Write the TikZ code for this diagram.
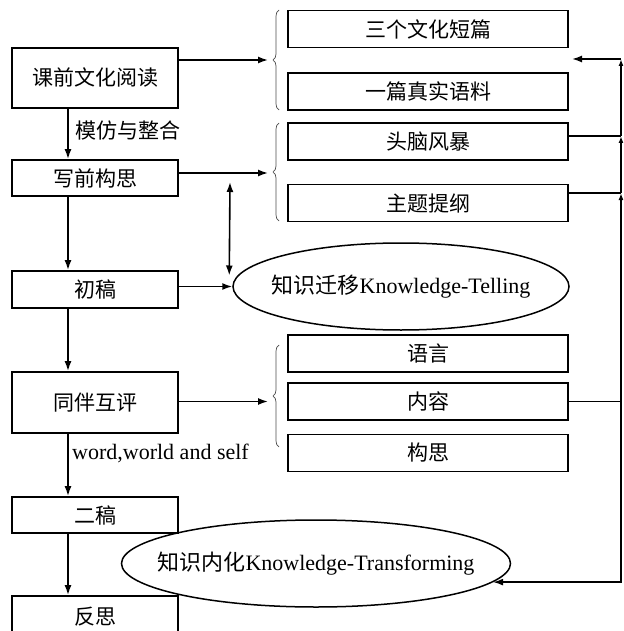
\documentclass[tikz,border=0pt]{standalone}
\usepackage{fontspec}
\setmainfont{Liberation Serif}
\newfontfamily\cjk{Noto Sans CJK SC}
\usetikzlibrary{arrows.meta,shapes.geometric,decorations.pathreplacing}

\tikzset{
  box/.style={draw, line width=1.8pt, minimum width=166pt, inner sep=0pt,
    font=\cjk\fontsize{21}{25}\selectfont},
  item/.style={box, minimum width=280pt, minimum height=37pt},
  bubble/.style={draw, ellipse, line width=1.5pt, inner sep=0pt,
    font=\fontsize{22}{26}\selectfont},
  tip/.style={-{Latex[length=10pt,width=7pt]}},
  link/.style={line width=1.6pt, tip},
  feed/.style={line width=1.5pt, -{Latex[length=7pt,width=5pt]}},
  curly/.style={decorate, decoration={brace, amplitude=6pt}, line width=0.7pt, black!70},
  note/.style={anchor=west, inner sep=0pt, font=\fontsize{22}{26}\selectfont},
}

\begin{document}
\begin{tikzpicture}[x=1pt, y=-1pt]

\useasboundingbox (0,0) rectangle (623,631);
\clip (0,0) rectangle (623,631);

% Writing steps (left column)
\node[box, minimum height=60pt] (read) at (95,78) {课前文化阅读};
\node[box, minimum height=36pt] (plan) at (95,178) {写前构思};
\node[box, minimum height=37pt] (draft) at (95,289.5) {初稿};
\node[box, minimum height=61pt] (peer) at (95,402.5) {同伴互评};
\node[box, minimum height=36pt] (second) at (95,515) {二稿};
\node[box, minimum height=42pt] (reflect) at (95,617) {反思};

% Sub-items (right column)
\foreach \name/\y/\txt in {culture/29/三个文化短篇, corpus/91.5/一篇真实语料,
    storm/141.5/头脑风暴, outline/203/主题提纲,
    lang/353.5/语言, content/401.5/内容, struct/453/构思} {
  \node[item] (\name) at (428,\y) {\txt};
}

% Knowledge ellipses
\node[bubble, minimum width=336pt, minimum height=87pt] (tell) at (401,286.5)
  {\makebox[0pt]{{\cjk 知识迁移}Knowledge-Telling}};
\node[bubble, minimum width=389pt, minimum height=87pt] (trans) at (316,563.5)
  {\makebox[0pt]{{\cjk 知识内化}Knowledge-Transforming}};

% Labels on the main line
\node[note, font=\cjk\fontsize{21}{25}\selectfont] (imit) at (75,130) {模仿与整合};
\node[note] (wws) at (72,453) {word,world and self};

% Braces
\draw[curly] (279,110) -- (279,10);
\draw[curly] (279,221) -- (279,123);
\draw[curly] (279,447) -- (279,345);

\coordinate (t1) at (268,60);
\coordinate (t2) at (268,173);
\coordinate (t3) at (268,401.5);
\coordinate (spine) at (68,0);
\coordinate (pin) at (230,182);

% Main flow
\draw[link] (read.south -| spine) -- (plan.north -| spine);
\draw[link] (plan.south -| spine) -- (draft.north -| spine);
\draw[link] (draft.south -| spine) -- (peer.north -| spine);
\draw[link] (peer.south -| spine) -- (second.north -| spine);
\draw[link] (second.south -| spine) -- (reflect.north -| spine);

\draw[link] (read.east |- t1) -- (t1);
\draw[link] (plan.east |- t2) -- (t2);
\draw[link] (peer.east |- t3) -- (t3);
\draw[link] (draft.east |- tell.west) -- (tell.west);
\draw[line width=1.6pt, {Latex[length=10pt,width=7pt]}-{Latex[length=10pt,width=7pt]}]
  (pin) -- ([xshift=-3pt,yshift=11pt]tell.west);

% Feedback line on the right
\coordinate (j0) at (621,59);
\coordinate (j1) at (621,136);
\coordinate (j2) at (621,193);
\coordinate (j3) at (621,401.5);
\coordinate (back) at (572,59);

\draw[line width=1.5pt] (storm.east |- j1) -- (j1);
\draw[line width=1.5pt] (outline.east |- j2) -- (j2);
\draw[line width=1.5pt] (content.east) -- (j3);
\draw[feed] (j3) -- (j2);
\draw[feed] (j2) -- (j1);
\draw[feed] (j1) -- (j0);
\draw[link] (j0) -- (back);
\draw[link] (j3) |- (trans.-6);

\end{tikzpicture}
\end{document}
